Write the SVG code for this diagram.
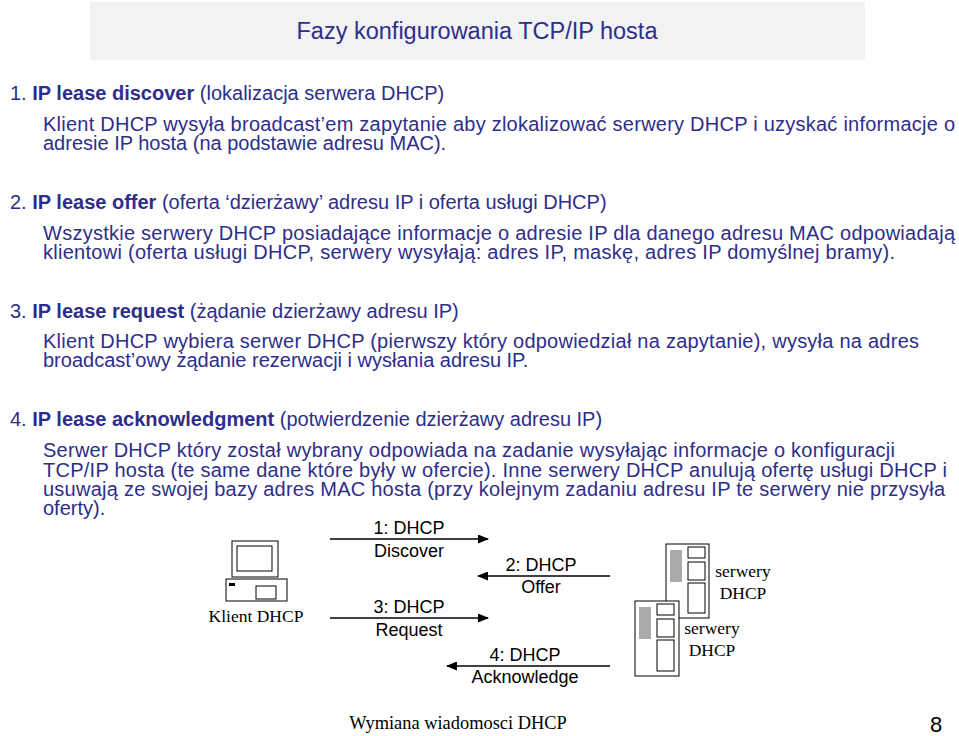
<svg xmlns="http://www.w3.org/2000/svg" width="959" height="736" viewBox="0 0 959 736">
<style>
text{font-family:"Liberation Sans",Arial,sans-serif;fill:#2e2e8a;font-size:20px}
.t{font-size:23.5px}
.b{font-weight:bold}
.d{fill:#000;font-size:18px}
.s{font-family:"Liberation Serif","Times New Roman",serif;fill:#000;font-size:17.5px}
.f{font-family:"Liberation Serif","Times New Roman",serif;fill:#000;font-size:18.4px}
.n{fill:#000;font-size:22px}
.ln{stroke:#000;stroke-width:1.5;fill:none}
.eq{fill:#fff;stroke:#000;stroke-width:1}
.gr{fill:#aaa}
</style>
<defs><marker id="ah" markerWidth="11" markerHeight="9" refX="10" refY="4.5" orient="auto" markerUnits="userSpaceOnUse"><path d="M0,0L11,4.5L0,9z" fill="#000"/></marker></defs>
<rect x="90" y="2" width="775" height="58" fill="#f2f2f2"/>
<text class="t" x="477" y="39" text-anchor="middle">Fazy konfigurowania TCP/IP hosta</text>
<text x="10" y="100">1. <tspan class="b">IP lease discover</tspan> (lokalizacja serwera DHCP)</text>
<text x="43" y="131" textLength="912">Klient DHCP wysyła broadcast’em zapytanie aby zlokalizować serwery DHCP i uzyskać informacje o</text>
<text x="43" y="150">adresie IP hosta (na podstawie adresu MAC).</text>
<text x="10" y="209">2. <tspan class="b">IP lease offer</tspan> (oferta ‘dzierżawy’ adresu IP i oferta usługi DHCP)</text>
<text x="43" y="240" textLength="912">Wszystkie serwery DHCP posiadające informacje o adresie IP dla danego adresu MAC odpowiadają</text>
<text x="43" y="259" textLength="852">klientowi (oferta usługi DHCP, serwery wysyłają: adres IP, maskę, adres IP domyślnej bramy).</text>
<text x="10" y="318">3. <tspan class="b">IP lease request</tspan> (żądanie dzierżawy adresu IP)</text>
<text x="43" y="348" textLength="876">Klient DHCP wybiera serwer DHCP (pierwszy który odpowiedział na zapytanie), wysyła na adres</text>
<text x="43" y="367">broadcast’owy żądanie rezerwacji i wysłania adresu IP.</text>
<text x="10" y="426">4. <tspan class="b">IP lease acknowledgment</tspan> (potwierdzenie dzierżawy adresu IP)</text>
<text x="43" y="457" textLength="852">Serwer DHCP który został wybrany odpowiada na zadanie wysyłając informacje o konfiguracji</text>
<text x="43" y="477" textLength="904">TCP/IP hosta (te same dane które były w ofercie). Inne serwery DHCP anulują ofertę usługi DHCP i</text>
<text x="43" y="496" textLength="902">usuwają ze swojej bazy adres MAC hosta (przy kolejnym zadaniu adresu IP te serwery nie przysyła</text>
<text x="43" y="515">oferty).</text>
<g id="client">
<rect class="eq" x="232" y="541" width="46" height="36"/>
<rect class="eq" x="237" y="546" width="35" height="25" stroke-width="2"/>
<rect class="eq" x="226" y="579" width="61" height="22"/>
<rect x="229" y="583" width="6" height="3" fill="#000"/>
<rect class="eq" x="256" y="586" width="20" height="13"/>
<text class="s" x="256" y="622" text-anchor="middle">Klient DHCP</text>
</g>
<g id="server1">
<rect class="eq" x="666" y="544" width="43" height="74"/>
<rect class="gr" x="670" y="550" width="12" height="32"/>
<rect class="eq" x="688" y="547" width="17" height="11"/>
<rect class="eq" x="688" y="562" width="17" height="18"/>
<rect class="eq" x="688" y="583" width="17" height="30"/>
</g>
<g id="server2">
<rect class="eq" x="635" y="601" width="44" height="75"/>
<rect class="gr" x="639" y="607" width="12" height="32"/>
<rect class="eq" x="657" y="604" width="17" height="11"/>
<rect class="eq" x="657" y="619" width="17" height="18"/>
<rect class="eq" x="657" y="640" width="17" height="31"/>
</g>
<text class="s" x="743" y="577" text-anchor="middle">serwery</text>
<text class="s" x="743" y="599" text-anchor="middle">DHCP</text>
<text class="s" x="712" y="634" text-anchor="middle">serwery</text>
<text class="s" x="712" y="656" text-anchor="middle">DHCP</text>
<g id="connectors">
<line class="ln" x1="330" y1="539" x2="488" y2="539" marker-end="url(#ah)"/>
<line class="ln" x1="610" y1="576" x2="478" y2="576" marker-end="url(#ah)"/>
<line class="ln" x1="330" y1="618" x2="488" y2="618" marker-end="url(#ah)"/>
<line class="ln" x1="610" y1="666" x2="447" y2="666" marker-end="url(#ah)"/>
</g>
<text class="d" x="409" y="534" text-anchor="middle">1: DHCP</text>
<text class="d" x="409" y="557" text-anchor="middle">Discover</text>
<text class="d" x="541" y="571" text-anchor="middle">2: DHCP</text>
<text class="d" x="541" y="593" text-anchor="middle">Offer</text>
<text class="d" x="409" y="613" text-anchor="middle">3: DHCP</text>
<text class="d" x="409" y="636" text-anchor="middle">Request</text>
<text class="d" x="525" y="661" text-anchor="middle">4: DHCP</text>
<text class="d" x="525" y="683" text-anchor="middle">Acknowledge</text>
<text class="f" x="458" y="729" text-anchor="middle">Wymiana wiadomosci DHCP</text>
<text class="n" x="936" y="732" text-anchor="middle">8</text>
</svg>
